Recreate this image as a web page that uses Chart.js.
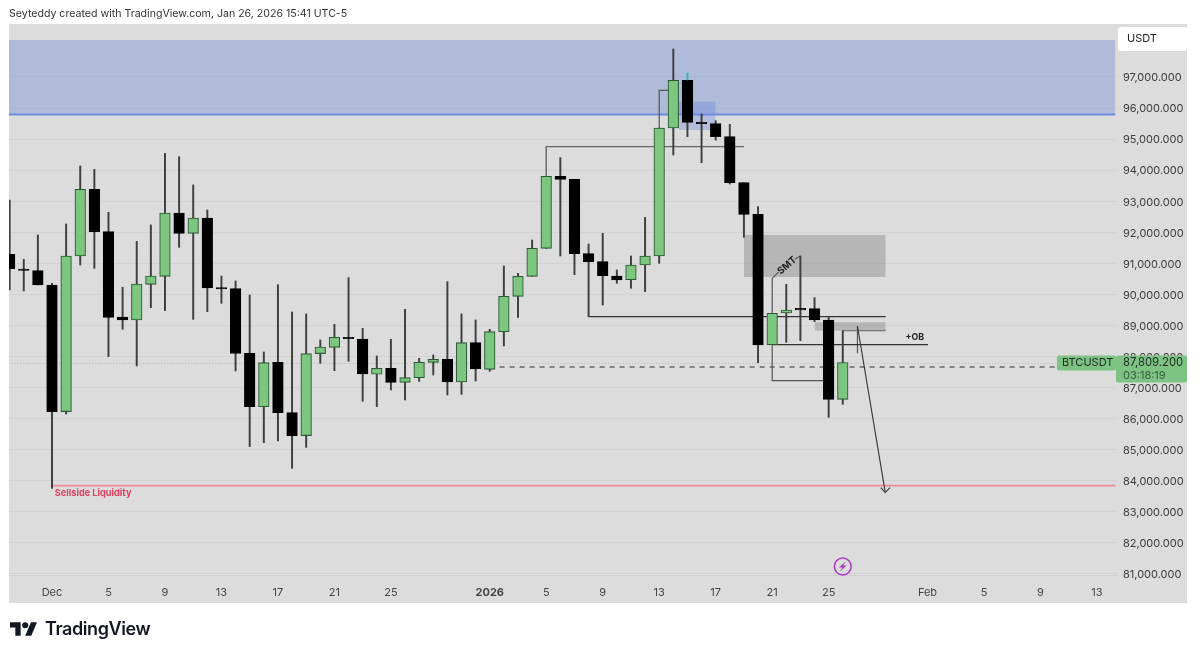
<!DOCTYPE html>
<html><head><meta charset="utf-8">
<style>
html,body{margin:0;padding:0;background:#fff;width:1200px;height:656px;overflow:hidden}
#c{position:absolute;left:0;top:0}
#head{position:absolute;left:9px;top:7px;font:10.6px "Inter",sans-serif;color:#333;white-space:nowrap}
#logo{position:absolute;left:10px;top:622px}
#brand{position:absolute;left:45px;top:618px;font:600 18px "Inter",sans-serif;color:#131722;letter-spacing:-.4px;white-space:nowrap}
</style>
<script src="https://cdn.jsdelivr.net/npm/chart.js@4/dist/chart.umd.min.js"></script>
</head><body>
<canvas id="c" width="1200" height="656"></canvas>
<div id="head">Seyteddy created with TradingView.com, Jan 26, 2026 15:41 UTC-5</div>
<svg id="logo" width="27" height="14" viewBox="0 4 35.5 18"><path fill="#131722" d="M14 22H7V11H0V4h14v18zM28 22h-8l7.5-18h8L28 22z"/><circle cx="20" cy="8" r="4" fill="#131722"/></svg>
<div id="brand">TradingView</div>
<script>
// day index 0 = Dec 1, 2025
const days  = [-3,-2,-1,0,1,2,3,4,5,6,7,8,9,10,11,12,13,14,15,16,17,18,19,20,21,22,23,24,25,26,27,28,29,30,31,32,33,34,35,36,37,38,39,40,41,42,43,44,45,46,47,48,49,50,51,52,53,54,55,56];
const highs = [93.04,91.13,91.913,90.357,92.268,94.135,94.028,92.643,90.228,91.709,92.235,94.543,94.435,93.523,92.718,90.593,90.432,89.981,88.146,90.314,89.434,89.37,88.533,89.037,90.54,88.908,88.018,88.554,89.52,87.943,88.05,90.411,89.37,89.177,88.876,90.915,90.679,91.752,93.802,94.403,93.706,91.624,91.967,90.787,91.237,92.482,95.358,97.901,96.892,95.809,95.594,95.476,93.598,92.825,89.391,90.325,91.237,89.895,89.284,88.833];
const lows  = [90.143,90.111,90.304,83.757,86.15,90.947,90.84,87.996,88.876,87.696,89.574,89.477,91.516,89.198,89.445,89.713,87.535,85.098,85.227,85.281,84.401,85.077,87.781,87.545,87.846,86.558,86.386,86.923,86.601,87.202,87.406,86.762,86.783,87.213,87.524,88.34,89.263,90.582,91.484,91.237,90.636,89.284,89.66,90.357,90.196,90.089,91.001,94.489,95.079,94.242,94.971,93.555,91.838,87.803,88.382,88.457,88.511,89.123,86.043,86.461];
const bodyTops = [91.291,90.819,90.765,90.304,91.237,93.384,93.384,92.021,89.273,90.336,90.593,92.622,92.622,92.461,92.461,90.218,90.186,88.104,87.803,87.814,86.193,88.093,88.307,88.619,88.619,88.565,87.621,87.621,87.32,87.814,87.91,87.91,88.447,88.447,88.801,89.939,90.582,91.484,93.802,93.802,93.706,91.312,91.055,90.593,90.947,91.237,95.358,96.892,96.892,95.54,95.497,95.079,93.598,92.578,89.391,89.498,89.552,89.541,89.176,87.809];
const bodyBottoms = [90.819,90.776,90.304,86.226,86.226,91.237,92.021,89.263,89.177,89.177,90.325,90.582,91.967,91.967,90.207,90.175,88.104,86.386,86.386,86.193,85.453,85.453,88.093,88.297,88.576,87.438,87.428,87.17,87.17,87.32,87.814,87.181,87.181,87.599,87.588,88.801,89.939,90.582,91.484,93.706,91.312,91.055,90.604,90.465,90.475,90.947,91.237,95.358,95.54,95.497,95.079,93.598,92.578,88.371,88.382,89.402,89.498,89.176,86.622,86.622];
const isUp = [0,0,0,0,1,1,0,0,0,1,1,1,0,1,0,0,0,0,1,0,0,1,1,1,0,0,1,0,1,1,1,0,1,0,1,1,1,1,1,0,0,0,0,0,1,1,1,1,0,0,0,0,0,0,1,1,0,0,0,1];

const yTicks = [81,82,83,84,85,86,87,88,89,90,91,92,93,94,95,96,97];
const xTickDays = [0,4,8,12,16,20,24,31,35,39,43,47,51,55,62,66,70,74];
const xTickLabels = ['Dec','5','9','13','17','21','25','2026','5','9','13','17','21','25','Feb','5','9','13'];

const lastPrice = 87.809;
const lastPriceLabel = '87,809.200';
const countdown = '03:18:19';
const symbolName = 'BTCUSDT';
const unitName = 'USDT';

// drawn zones: [dayFrom, dayTo, priceTop, priceBottom]
const zoneBlue = [-3.1,75.3,98.19,95.79];
const zoneBlueSmall = [44.4,47,96.206,95.294];
const zoneGray = [49,59.04,91.913,90.561];
const zoneGraySmall = [54,59.04,89.101,88.833];
// drawn polylines as [day, price] pairs
const lineBlue = [[-3.1,95.79],[75.3,95.79]];
const lineRed = [[0,83.843],[75.3,83.843]];
const lineDashed = [[31.7,87.663],[71.1,87.663]];
const lineDotted = [[-3.1,87.78],[71.1,87.78]];
const lineHigh = [[35,91.484],[35,94.757],[49,94.757]];
const lineTop = [[44,96.571],[43,96.571],[43,95.358]];
const lineLow = [[38,89.284],[59.04,89.284]];
const lineOb = [[51,88.382],[62.04,88.382]];
const lineHook = [[51,90.518],[51,87.223],[55,87.223]];
const lineSmtA = [[51,90.518],[51.45,90.72]];
const lineSmtB = [[52.6,91.13],[53,91.237]];
const lineZone = [[56,88.833],[59.04,88.833]];
const lineArrow = [[57.04,88.983],[59,83.649]];
const lineStem = [[57.04,88.983],[57.04,88.103]];
const lineHead = [[58.69,83.78],[59,83.62],[59.35,83.78]];
const tealTip = [[45,97.139],[45,96.892]];

const pts = a => a.map(p=>({x:p[0],y:p[1]}));
const ln = (a,color,w,order,dash) => ({type:'line',data:pts(a),borderColor:color,borderWidth:w,pointRadius:0,fill:false,tension:0,order:order,borderDash:dash||[],parsing:false,normalized:false,clip:true});
const zone = (z,color,order) => ({type:'line',data:[{x:z[0],y:z[2]},{x:z[1],y:z[2]}],borderWidth:0,borderColor:'transparent',pointRadius:0,backgroundColor:color,fill:{value:z[3]},tension:0,order:order,parsing:false});

const green='#7cc680', greenEdge='#2d5a34';
const wicks = {type:'bar',order:5,grouped:false,barThickness:1.3,data:days.map((d,i)=>({x:d,y:[lows[i],highs[i]]})),backgroundColor:'#3f3f3f',borderWidth:0};
const bodies = {type:'bar',order:2,grouped:false,barThickness:10.6,borderSkipped:false,data:days.map((d,i)=>({x:d,y:[bodyBottoms[i],bodyTops[i]]})),
  backgroundColor:isUp.map(u=>u?green:'#000'),borderColor:isUp.map(u=>u?greenEdge:'#000'),borderWidth:1.1};

const paint={id:'paint',
  beforeDraw(c){const x=c.ctx,a=c.chartArea,s=c.scales.y;x.save();x.fillStyle='#dcdcdc';x.fillRect(a.left,a.top,s.right-a.left,c.scales.x.bottom-a.top);x.restore();},
  afterDatasetsDraw(c){const x=c.ctx,X=c.scales.x,Y=c.scales.y;x.save();
    x.font='bold 9.2px "Inter",sans-serif';x.fillStyle='#e2405e';x.textBaseline='middle';x.textAlign='left';
    x.fillText('Sellside Liquidity',X.getPixelForValue(0.2),Y.getPixelForValue(83.6));
    x.font='bold 8.8px "Inter",sans-serif';x.fillStyle='#222';
    x.fillText('+OB',X.getPixelForValue(60.45),Y.getPixelForValue(88.63));
    x.save();x.translate(X.getPixelForValue(52.05),Y.getPixelForValue(90.93));x.rotate(-0.72);x.textAlign='center';x.font='bold 9.5px "Inter",sans-serif';x.fillText('SMT',0,0);x.restore();
    // event marker
    const ex=X.getPixelForValue(56),ey=Y.getPixelForValue(81.24);
    x.strokeStyle='#a83bc4';x.lineWidth=1.5;x.beginPath();x.arc(ex,ey,8.4,0,Math.PI*2);x.stroke();
    x.fillStyle='#a83bc4';x.beginPath();x.moveTo(ex+3,ey-5.2);x.lineTo(ex-3.8,ey+1);x.lineTo(ex-.4,ey+1);x.lineTo(ex-3,ey+5.2);x.lineTo(ex+3.8,ey-1);x.lineTo(ex+.4,ey-1);x.closePath();x.fill();
    x.restore();},
  afterDraw(c){const x=c.ctx,Y=c.scales.y,X=c.scales.x,py=Y.getPixelForValue(lastPrice);x.save();
    const round=(l,t,w,h,r,f)=>{x.fillStyle=f;x.beginPath();x.roundRect(l,t,w,h,r);x.fill();};
    round(1118,27,69,24,3,'#fff');
    x.font='11px "Inter",sans-serif';x.fillStyle='#222';x.textBaseline='middle';x.textAlign='left';x.fillText(unitName,1127,39);
    round(1057,py-7,59,15,2,'#7dc383');
    x.fillStyle='#1f2a22';x.fillText(symbolName,1062,py+.5);
    round(1116,py-7,71,27,2,'#7dc383');
    x.font='11.3px "Inter",sans-serif';x.fillStyle='#1f2a22';x.fillText(lastPriceLabel,1123,py+.5);
    x.fillStyle='#3c5a44';x.font='11px "Inter",sans-serif';x.fillText(countdown,1123,py+13);
    x.restore();}
};

new Chart(document.getElementById('c'),{
  data:{datasets:[
    zone(zoneBlue,'rgba(73,113,210,.3)',20),
    zone(zoneBlueSmall,'rgba(80,110,225,.28)',19),
    zone(zoneGray,'rgba(120,120,120,.38)',18),
    zone(zoneGraySmall,'rgba(120,120,120,.38)',18),
    ln(lineDotted,'#b4b4b4',1,17,[1,2]),
    ln(lineBlue,'#6a8ce0',2,16),
    ln(lineRed,'#ea8a92',1.6,16),
    ln(lineDashed,'#4a4a4a',1.2,16,[5,5]),
    ln(lineHigh,'#666',1.4,6),
    ln(lineTop,'#555',1.2,6),
    ln(lineLow,'#333',1.1,6),
    ln(lineOb,'#333',1.1,6),
    ln(lineHook,'#555',1.2,6),
    ln(lineSmtA,'#555',1.1,6),
    ln(lineSmtB,'#555',1.1,6),
    ln(lineZone,'#777',1.4,6),
    ln(lineArrow,'#333',1.1,1),
    ln(lineStem,'#555',1.2,6),
    ln(lineHead,'#333',1.1,1),
    ln(tealTip,'#3fb5b5',2,1),
    wicks,bodies
  ]},
  plugins:[paint],
  options:{
    responsive:false,animation:false,devicePixelRatio:1,
    layout:{padding:{left:9,top:24,right:13,bottom:53}},
    plugins:{legend:{display:false},tooltip:{enabled:false}},
    scales:{
      x:{type:'linear',offset:false,min:-3.045,max:75.42,
        grid:{display:false},border:{display:true,color:'#d0d0d0'},
        afterBuildTicks(s){s.ticks=xTickDays.map(v=>({value:v}));},
        afterFit(s){s.height=28;},
        ticks:{autoSkip:false,maxRotation:0,padding:3,color:'#444',
          font:c=>({family:'Inter',size:11,weight:c.index===7?'bold':'normal'}),
          callback:(v,i)=>xTickLabels[i]}},
      y:{type:'linear',position:'right',min:80.966,max:98.706,
        grid:{color:'#d3d3d3',drawTicks:false},border:{display:false},
        afterBuildTicks(s){s.ticks=yTicks.map(v=>({value:v}));},
        afterFit(s){s.width=70;},
        ticks:{autoSkip:false,padding:6,labelOffset:1,color:'#3c3c3c',font:{family:'Inter',size:11},
          callback:v=>v+',000.000'}}
    }
  }
});
</script>
</body></html>
